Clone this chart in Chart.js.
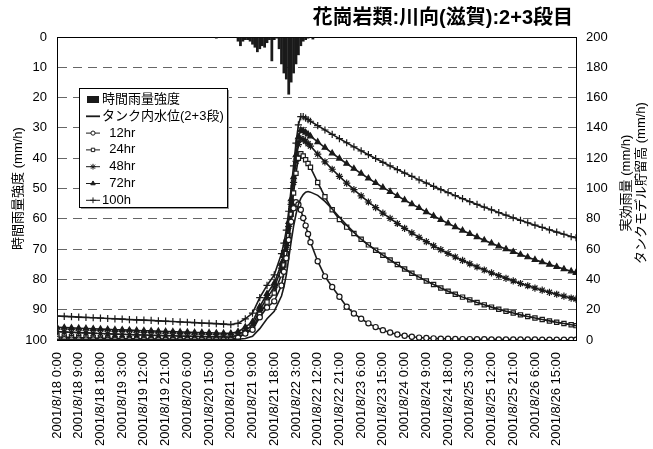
<!DOCTYPE html>
<html>
<head>
<meta charset="utf-8">
<script src="https://cdn.jsdelivr.net/npm/chart.js@4.4.1/dist/chart.umd.min.js"></script>
<style>
  html, body { margin: 0; padding: 0; background: #fff; }
</style>
</head>
<body>
<canvas id="chart" width="653" height="449"></canvas>
<script>
const chartTitle = '花崗岩類:川向(滋賀):2+3段目';
const leftAxisTitle = '時間雨量強度 (mm/h)';
const rightAxisTitles = ['実効雨量 (mm/h)', 'タンクモデル貯留高 (mm/h)'];

// one label every 9 hours, first at hour 0
const tickLabels = [
    '2001/8/18 0:00', '2001/8/18 9:00', '2001/8/18 18:00', '2001/8/19 3:00',
    '2001/8/19 12:00', '2001/8/19 21:00', '2001/8/20 6:00', '2001/8/20 15:00',
    '2001/8/21 0:00', '2001/8/21 9:00', '2001/8/21 18:00', '2001/8/22 3:00',
    '2001/8/22 12:00', '2001/8/22 21:00', '2001/8/23 6:00', '2001/8/23 15:00',
    '2001/8/24 0:00', '2001/8/24 9:00', '2001/8/24 18:00', '2001/8/25 3:00',
    '2001/8/25 12:00', '2001/8/25 21:00', '2001/8/26 6:00', '2001/8/26 15:00'
];

// hourly rainfall (mm/h), hours counted from 2001/8/18 0:00
const rainHours = [66, 75, 76, 77, 78, 79, 80, 81, 82, 83, 84, 85, 86, 87, 88, 89, 90,
    91, 92, 93, 94, 95, 96, 97, 98, 99, 100, 101, 102, 103, 104, 106];
const rainValues = [0.5, 1.5, 3, 1.5, 1, 1, 1.5, 2.5, 3.5, 5, 4, 3, 3.5, 2, 1, 8, 1,
    0.5, 4, 9, 12, 14, 19, 15, 12, 9, 6, 3, 1.5, 1, 0.5, 0.8];

// sample hours of the curves
const hours = [0, 3, 6, 9, 12, 15, 18, 21, 24, 27, 30, 33, 36, 39, 42, 45, 48, 51, 54, 57, 60, 63, 66, 69, 72, 75, 78, 81, 84, 87, 90,
    93, 94, 95, 96, 97, 98, 99, 100, 101, 102, 103, 104, 105,
    108, 111, 114, 117, 120, 123, 126, 129, 132, 135, 138, 141, 144, 147, 150, 153, 156, 159, 162, 165, 168, 171, 174, 177, 180, 183,
    186, 189, 192, 195, 198, 201, 204, 207, 210, 213, 215];

const tank = [0.5, 0.5, 0.5, 0.5, 0.5, 0.5, 0.5, 0.5, 0.5, 0.5, 0.5, 0.5, 0.4, 0.4, 0.4, 0.4, 0.4, 0.4, 0.4, 0.4, 0.4, 0.4, 0.4, 0.4, 0.4, 0.5, 1.0, 2.5, 7.5, 14, 19,
    29, 35, 43, 54, 65, 75, 83, 89.5, 93.5, 96, 97.5, 98, 97.6,
    95.5, 91.5, 86.5, 81, 75.8, 71, 66.5, 62.8, 59.3, 56.0, 52.8, 49.8, 46.9, 44.1, 41.5, 39.0, 36.6, 34.3, 32.2, 30.2, 28.3, 26.5, 24.8, 23.2, 21.7, 20.3,
    19.0, 17.8, 16.6, 15.5, 14.5, 13.5, 12.6, 11.7, 10.9, 10.1, 9.5];

const eff12 = [0.6, 0.5, 0.4, 0.4, 0.3, 0.3, 0.2, 0.2, 0.2, 0.1, 0.1, 0.1, 0.1, 0.1, 0.1, 0.1, 0.1, 0.1, 0.1, 0.1, 0.1, 0.1, 0.1, 0.1, 0.1, 1.5, 4.3, 6.8, 15.0, 21.5, 25.5,
    36, 45, 54, 66, 78, 87, 91, 89.5, 86, 80.5, 75.5, 70, 64.5,
    52, 42, 35, 28.5, 22, 17.5, 14, 11, 8.5, 6.5, 5, 3.6, 2.8, 2.1, 1.6, 1.3, 1.1, 0.9, 0.8, 0.7, 0.6, 0.6, 0.5, 0.5, 0.4, 0.4,
    0.4, 0.3, 0.3, 0.3, 0.3, 0.2, 0.2, 0.2, 0.2, 0.2, 0.2];

const eff24 = [2.0, 1.8, 1.7, 1.5, 1.4, 1.3, 1.2, 1.1, 1.0, 0.9, 0.8, 0.8, 0.7, 0.6, 0.6, 0.5, 0.5, 0.4, 0.4, 0.4, 0.3, 0.3, 0.3, 0.2, 0.2, 1.7, 4.5, 7.7, 17.0, 25.0, 31.0,
    43, 49.5, 57, 69, 83, 97, 110, 120, 123, 121.5, 119, 116.5, 114,
    104, 94.5, 86, 79.5, 74.5, 70.3, 66.5, 62.8, 59.3, 56.0, 52.8, 49.8, 46.9, 44.1, 41.5, 39.0, 36.6, 34.3, 32.2, 30.2, 28.3, 26.5, 24.8, 23.2, 21.7, 20.3,
    19.0, 17.8, 16.6, 15.5, 14.5, 13.5, 12.6, 11.7, 10.9, 10.1, 9.5];

const eff48 = [5.5, 5.3, 5.1, 4.9, 4.7, 4.5, 4.3, 4.1, 3.9, 3.8, 3.6, 3.4, 3.3, 3.1, 3.0, 2.9, 2.8, 2.6, 2.5, 2.4, 2.3, 2.2, 2.1, 2.0, 1.9, 3.3, 6.3, 9.8, 19.5, 28.0, 34.5,
    47.5, 54.5, 62.5, 75, 89.5, 104, 118, 129, 133, 132.3, 131.2, 129.6, 128,
    122.7, 117.6, 112.7, 108.0, 103.5, 99.2, 95.1, 91.1, 87.4, 83.7, 80.3, 76.9, 73.7, 70.7, 67.7, 64.9, 62.2, 59.6, 57.1, 54.8, 52.5, 50.3, 48.2, 46.2, 44.3, 42.5,
    40.7, 39.0, 37.3, 35.8, 34.3, 32.9, 31.5, 30.2, 28.9, 27.7, 27.0];

const eff72 = [8.4, 8.2, 8.0, 7.8, 7.6, 7.4, 7.2, 7.0, 6.8, 6.7, 6.5, 6.3, 6.1, 6.0, 5.8, 5.6, 5.5, 5.3, 5.2, 5.0, 4.9, 4.8, 4.6, 4.5, 4.4, 5.5, 8.5, 12.0, 22.0, 30.5, 37.5,
    50.5, 57.5, 65.5, 78, 93, 107.5, 122, 134, 138.5, 138, 137, 135.8, 134.5,
    130.7, 127.0, 123.3, 119.8, 116.4, 113.1, 109.9, 106.7, 103.7, 100.7, 97.9, 95.1, 92.4, 89.7, 87.2, 84.5, 81.9, 79.4, 77.0, 74.6, 72.3, 70.1, 68.0, 65.9, 63.9, 61.9,
    60.0, 58.2, 56.4, 54.7, 53.0, 51.4, 49.8, 48.3, 46.8, 45.4, 44.4];

const eff100 = [15.8, 15.6, 15.4, 15.1, 14.9, 14.7, 14.5, 14.2, 14.0, 13.8, 13.5, 13.3, 13.1, 12.9, 12.6, 12.4, 12.2, 11.9, 11.7, 11.5, 11.2, 11.0, 10.8, 10.5, 10.2, 11.0, 14.0, 17.8, 28.0, 36.0, 43.0,
    57, 64, 72.5, 85, 100, 115, 130, 142, 147.5, 147.5, 146.5, 145.5, 144.4,
    141.5, 138.6, 135.7, 132.9, 130.2, 127.5, 124.9, 122.3, 119.8, 117.3, 114.9, 112.5, 110.2, 108.0, 105.7, 103.6, 101.4, 99.3, 97.3, 95.3, 93.3, 91.4, 89.5, 87.7, 85.9, 84.1,
    82.4, 80.7, 79.0, 77.4, 75.8, 74.3, 72.7, 71.2, 69.8, 68.3, 67.5];

const fontFamily = '"Liberation Sans", Arial, "Noto Sans CJK JP", sans-serif';
const ink = '#1a1a1a';

Chart.defaults.font.family = fontFamily;
Chart.defaults.color = '#000';

const toPoints = (values) => hours.map((h, i) => ({ x: h, y: values[i] }));

const curve = (label, values, style, radius, fill) => ({
    type: 'line',
    label: label,
    data: toPoints(values),
    yAxisID: 'y1',
    borderColor: ink,
    borderWidth: 1.6,
    pointStyle: style,
    pointRadius: radius,
    pointBackgroundColor: fill,
    pointBorderColor: ink,
    pointBorderWidth: 1.2,
    tension: 0,
});

// legend box drawn inside the plot like the Excel one
const legendBox = {
    id: 'legendBox',
    afterDatasetsDraw: (chart) => {
        const { ctx, chartArea } = chart;
        const x = chartArea.left + 22;
        const y = chartArea.top + 51;
        const w = 148;
        const h = 119;

        ctx.save();
        ctx.fillStyle = '#999';
        ctx.fillRect(x + 2, y + 2, w, h);
        ctx.fillStyle = '#fff';
        ctx.fillRect(x, y, w, h);
        ctx.strokeStyle = '#000';
        ctx.lineWidth = 1;
        ctx.strokeRect(x + 0.5, y + 0.5, w, h);

        ctx.font = '13px ' + fontFamily;
        ctx.textBaseline = 'middle';
        chart.data.datasets.forEach((ds, i) => {
            const cy = y + 11.5 + i * 16.8;
            const sx = x + 7;
            if (ds.type === 'bar') {
                ctx.fillStyle = ink;
                ctx.fillRect(sx + 1, cy - 3.5, 12, 7);
            } else {
                ctx.strokeStyle = ink;
                ctx.lineWidth = ds.pointRadius > 0 ? 1 : 1.8;
                ctx.beginPath();
                ctx.moveTo(sx, cy);
                ctx.lineTo(sx + 14, cy);
                ctx.stroke();
                if (ds.pointRadius > 0) {
                    ctx.fillStyle = ds.pointBackgroundColor;
                    ctx.strokeStyle = ds.pointBorderColor;
                    ctx.lineWidth = 1;
                    Chart.helpers.drawPoint(ctx, {
                        pointStyle: ds.pointStyle,
                        radius: ds.pointRadius * 0.8,
                        rotation: 0,
                        borderWidth: 1,
                    }, sx + 7, cy);
                }
            }
            ctx.fillStyle = '#000';
            ctx.fillText(ds.label, sx + 16, cy);
        });
        ctx.restore();
    },
};

const plotFrame = {
    id: 'plotFrame',
    beforeDatasetsDraw: (chart) => {
        const { ctx, chartArea: a } = chart;
        ctx.save();
        ctx.strokeStyle = '#000';
        ctx.lineWidth = 1;
        ctx.strokeRect(Math.round(a.left) + 0.5, Math.round(a.top) + 0.5, Math.round(a.width), Math.round(a.height));
        ctx.restore();
    },
};

// chart title and the two-line right axis title (reads bottom to top)
const texts = {
    id: 'texts',
    afterDraw: (chart) => {
        const { ctx, chartArea } = chart;
        ctx.save();
        ctx.fillStyle = '#000';
        ctx.font = 'bold 20px ' + fontFamily;
        ctx.textAlign = 'right';
        ctx.textBaseline = 'middle';
        ctx.fillText(chartTitle, chartArea.right - 3, 18);

        ctx.font = '13px ' + fontFamily;
        ctx.textAlign = 'center';
        rightAxisTitles.forEach((t, i) => {
            ctx.save();
            ctx.translate(chartArea.right + 50 + i * 15, 183);
            ctx.rotate(-Math.PI / 2);
            ctx.fillText(t, 0, 0);
            ctx.restore();
        });
        ctx.restore();
    },
};

new Chart(document.getElementById('chart'), {
    type: 'line',
    data: {
        datasets: [
            {
                type: 'bar',
                label: '時間雨量強度',
                data: rainHours.map((h, i) => ({ x: h, y: rainValues[i] })),
                yAxisID: 'y',
                backgroundColor: ink,
                borderWidth: 0,
                barPercentage: 1,
                categoryPercentage: 1.15,
            },
            curve('タンク内水位(2+3段)', tank, 'circle', 0, ink),
            curve('  12hr', eff12, 'circle', 2.6, '#fff'),
            curve('  24hr', eff24, 'rect', 3, '#fff'),
            curve('  48hr', eff48, 'star', 3.6, ink),
            curve('  72hr', eff72, 'triangle', 3.2, ink),
            curve('100h', eff100, 'cross', 3.6, ink),
        ],
    },
    options: {
        responsive: false,
        animation: false,
        events: [],
        layout: { padding: { left: 7, right: 0, top: 37, bottom: 0 } },
        plugins: {
            legend: { display: false },
            tooltip: { enabled: false },
        },
        scales: {
            x: {
                type: 'linear',
                min: 0,
                max: 215,
                offset: false,
                grid: { display: false, drawTicks: false },
                border: { color: '#000' },
                ticks: {
                    autoSkip: false,
                    minRotation: 90,
                    maxRotation: 90,
                    padding: 12,
                    font: { size: 13 },
                    callback: (v) => tickLabels[v / 9] || '',
                },
                afterBuildTicks: (s) => {
                    s.ticks = tickLabels.map((t, i) => ({ value: i * 9 }));
                },
                afterFit: (s) => { s.height = 109; },
            },
            y: {
                position: 'left',
                reverse: true,
                min: 0,
                max: 100,
                ticks: { stepSize: 10, padding: 10, font: { size: 13 } },
                grid: { color: '#666', drawTicks: false },
                border: { color: '#000', dash: [9, 6] },
                title: {
                    display: true,
                    text: leftAxisTitle,
                    font: { size: 13 },
                    padding: { top: 4, bottom: 0 },
                },
                afterFit: (s) => { s.width = 50; },
            },
            y1: {
                position: 'right',
                min: 0,
                max: 200,
                ticks: { stepSize: 20, padding: 10, font: { size: 13 } },
                grid: { drawOnChartArea: false, drawTicks: false },
                border: { color: '#000' },
                afterFit: (s) => { s.width = 77; },
            },
        },
    },
    plugins: [plotFrame, legendBox, texts],
});
</script>
</body>
</html>
